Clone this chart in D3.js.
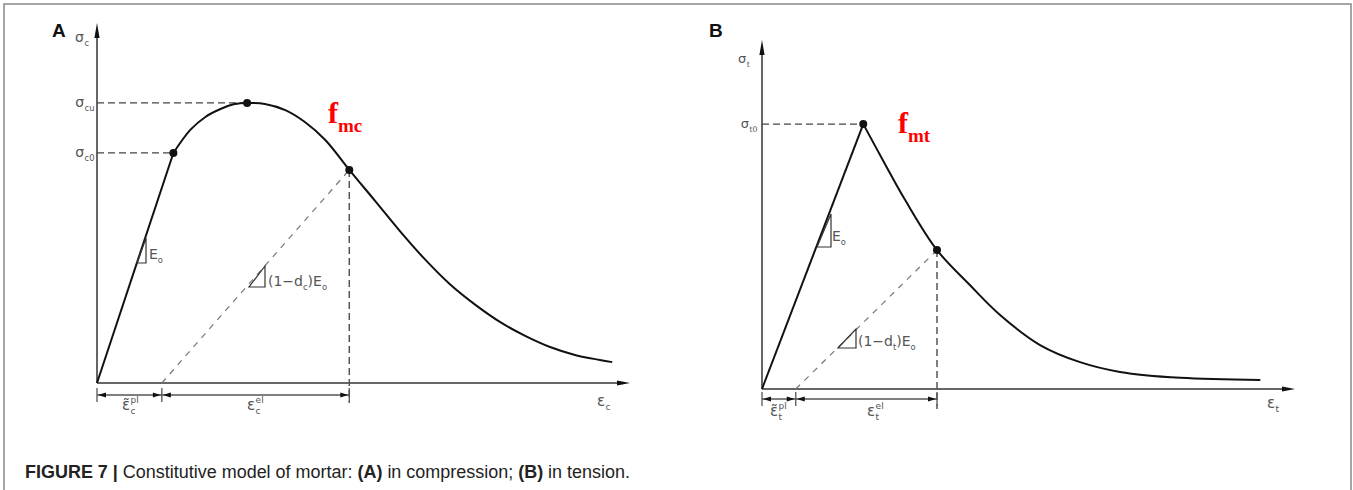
<!DOCTYPE html>
<html>
<head>
<meta charset="utf-8">
<script src="https://cdn.jsdelivr.net/npm/d3@7"></script>
<style>
  body { margin: 0; background: #fff; }
  svg { display: block; }
</style>
</head>
<body>
<div id="fig"></div>
<script>
// compression (panel A): strain (x1e-3) and stress
var compStrain = [0, 0.86, 1.05, 1.22, 1.39, 1.55, 1.69, 1.89, 2.12, 2.34, 2.57, 2.84, 3.13, 3.41, 3.69, 3.97, 4.26, 4.54, 4.82, 5.10, 5.38, 5.66, 5.80];
var compStress = [0, 6.39, 7.03, 7.39, 7.61, 7.75, 7.78, 7.75, 7.58, 7.25, 6.75, 5.92, 5.06, 4.22, 3.44, 2.75, 2.17, 1.69, 1.31, 1.00, 0.78, 0.64, 0.58];
var compMarked = [1, 6, 11];   // sigma_c0, sigma_cu, unloading point
var compDashed = [1, 6];       // horizontal guides to the y axis
var compUnload = 11;
var compPlastic = 0.73;

// tension (panel B)
var tenStrain = [0, 1.14, 1.39, 1.61, 1.97, 2.34, 2.68, 3.13, 3.58, 4.03, 4.71, 5.61];
var tenStress = [0, 7.59, 6.42, 5.42, 3.98, 2.98, 2.12, 1.26, 0.77, 0.49, 0.32, 0.26];
var tenMarked = [1, 4];
var tenDashed = [1];
var tenUnload = 4;
var tenPlastic = 0.38;

var width = 1353, height = 490;
var ink = "#111", grey = "#555";

var svg = d3.select("#fig")
    .append("svg")
    .attr("width", width)
    .attr("height", height);

// figure frame
svg.append("rect")
    .attr("x", 4).attr("y", 4)
    .attr("width", width - 6).attr("height", height + 10)
    .attr("fill", "none").attr("stroke", "#888").attr("stroke-width", 1.5);

// symbol with optional subscript / superscript stacked after it
function sym(g, x, y, base, sub, sup, size, anchor) {
    var t = g.append("text")
        .attr("x", x).attr("y", y)
        .attr("font-family", "DejaVu Sans, sans-serif")
        .attr("font-size", size)
        .attr("fill", grey)
        .text(base);
    var w = t.node().getComputedTextLength();
    var subW = 0;
    var small = size * 0.6;
    var x0 = x;
    if (anchor === "end") {
        var tmp = g.append("text").attr("font-family", "DejaVu Sans, sans-serif").attr("font-size", small).text(sub || "");
        subW = Math.max(subW, tmp.node().getComputedTextLength());
        tmp.text(sup || "");
        subW = Math.max(subW, tmp.node().getComputedTextLength());
        tmp.remove();
        x0 = x - w - subW - 1;
        t.attr("x", x0);
    }
    if (sub) g.append("text")
        .attr("x", x0 + w + 0.5).attr("y", y + size * 0.28)
        .attr("font-family", "DejaVu Sans, sans-serif")
        .attr("font-size", small).attr("fill", grey)
        .text(sub);
    if (sup) g.append("text")
        .attr("x", x0 + w + 0.5).attr("y", y - size * 0.45)
        .attr("font-family", "DejaVu Sans, sans-serif")
        .attr("font-size", small).attr("fill", grey)
        .text(sup);
}

// inline text with subscripts, e.g. (1-d_c)E_o
function rich(g, x, y, parts, size) {
    var t = g.append("text").attr("x", x).attr("y", y)
        .attr("font-family", "DejaVu Sans, sans-serif")
        .attr("font-size", size).attr("fill", grey);
    var shift = 0;
    parts.forEach(function(p) {
        var s = p[1] === "sub" ? size * 0.28 : 0;
        t.append("tspan")
            .attr("dy", s - shift)
            .attr("font-size", p[1] === "sub" ? size * 0.6 : size)
            .text(p[0]);
        shift = s;
    });
}

function arrowHead(g, tipX, tipY, dir, len, half) {
    var p;
    if (dir === "up") p = [[tipX, tipY], [tipX - half, tipY + len], [tipX + half, tipY + len]];
    else if (dir === "right") p = [[tipX, tipY], [tipX - len, tipY - half], [tipX - len, tipY + half]];
    else p = [[tipX, tipY], [tipX + len, tipY - half], [tipX + len, tipY + half]];
    g.append("path").attr("d", d3.line()(p) + "Z").attr("fill", ink);
}

function panel(o) {
    var g = svg.append("g");
    var x = d3.scaleLinear().domain([0, 6]).range([o.left, o.right]);
    var y = d3.scaleLinear().domain([0, 10]).range([o.bottom, o.top]);
    var pts = o.strain.map(function(s, i) { return [s, o.stress[i]]; });
    var line = d3.line().x(d => x(d[0])).y(d => y(d[1]));

    // axes
    g.append("line")
        .attr("x1", x(0)).attr("y1", y(0)).attr("x2", x(0)).attr("y2", o.top + 10)
        .attr("stroke", "#666").attr("stroke-width", 2);
    arrowHead(g, x(0), o.top, "up", 15, 2.6);
    g.append("line")
        .attr("x1", x(0)).attr("y1", y(0)).attr("x2", o.right - 8).attr("y2", y(0))
        .attr("stroke", "#666").attr("stroke-width", 2);
    arrowHead(g, o.right, y(0), "right", 13, 2.6);

    // guides to the stress axis
    o.dashed.forEach(function(i) {
        g.append("line")
            .attr("x1", x(0)).attr("y1", y(pts[i][1]))
            .attr("x2", x(pts[i][0])).attr("y2", y(pts[i][1]))
            .attr("stroke", "#444").attr("stroke-width", 1.3)
            .attr("stroke-dasharray", "7,4");
    });

    // unloading line and its drop to the strain axis
    var u = pts[o.unload];
    g.append("line")
        .attr("x1", x(o.plastic)).attr("y1", y(0))
        .attr("x2", x(u[0])).attr("y2", y(u[1]))
        .attr("stroke", "#777").attr("stroke-width", 1.2)
        .attr("stroke-dasharray", "6,6");
    g.append("line")
        .attr("x1", x(u[0])).attr("y1", y(u[1]))
        .attr("x2", x(u[0])).attr("y2", y(0) + 20)
        .attr("stroke", "#555").attr("stroke-width", 1.5)
        .attr("stroke-dasharray", "7,4");

    // elastic branch + nonlinear branch
    g.append("path").attr("d", line(pts.slice(0, 2)))
        .attr("fill", "none").attr("stroke", ink).attr("stroke-width", 2);
    g.append("path").attr("d", line.curve(d3.curveCatmullRom.alpha(0.5))(pts.slice(1)))
        .attr("fill", "none").attr("stroke", ink).attr("stroke-width", 2);

    o.marked.forEach(function(i) {
        g.append("circle").attr("cx", x(pts[i][0])).attr("cy", y(pts[i][1])).attr("r", 4).attr("fill", ink);
    });

    // dimension line under the strain axis
    var dy = y(0) + o.dimOff;
    var stops = [0, o.plastic, u[0]];
    stops.forEach(function(s) {
        g.append("line")
            .attr("x1", x(s)).attr("x2", x(s))
            .attr("y1", dy - 7).attr("y2", dy + 7)
            .attr("stroke", "#555").attr("stroke-width", 1.3);
    });
    g.append("line")
        .attr("x1", x(0)).attr("x2", x(u[0])).attr("y1", dy).attr("y2", dy)
        .attr("stroke", "#555").attr("stroke-width", 1.3);
    [[0, o.plastic], [o.plastic, u[0]]].forEach(function(seg) {
        arrowHead(g, x(seg[0]) + 1, dy, "left", 8, 2.4);
        arrowHead(g, x(seg[1]) - 1, dy, "right", 8, 2.4);
    });

    // stiffness triangles
    o.tri.forEach(function(t) {
        g.append("path")
            .attr("d", d3.line()([[t.x1, t.yb], [t.x2, t.yb], [t.x2, t.yt]]) + "Z")
            .attr("fill", "none").attr("stroke", "#333").attr("stroke-width", 1.2);
    });

    return {g: g, x: x, y: y, pts: pts};
}

// ---------- panel A ----------
var A = panel({
    left: 97, right: 630, bottom: 383, top: 23,
    strain: compStrain, stress: compStress,
    marked: compMarked, dashed: compDashed, unload: compUnload, plastic: compPlastic,
    dimOff: 12,
    tri: [{x1: 137, x2: 146, yb: 263, yt: 238}, {x1: 249, x2: 265, yb: 287, yt: 266}]
});
A.g.append("text").attr("x", 52).attr("y", 37)
    .attr("font-family", "Liberation Sans, Arial, sans-serif").attr("font-weight", "bold")
    .attr("font-size", 19).attr("fill", ink).text("A");
sym(A.g, 75, 42, "σ", "c", null, 14);
sym(A.g, 95, A.y(compStress[6]) + 4, "σ", "cu", null, 14, "end");
sym(A.g, 95, A.y(compStress[1]) + 4, "σ", "c0", null, 14, "end");
rich(A.g, 149, 259, [["E"], ["o", "sub"]], 14);
rich(A.g, 268, 286, [["(1−d"], ["c", "sub"], [")E"], ["o", "sub"]], 14);
sym(A.g, 122, 410, "ε\u0303", "c", "pl", 15);
sym(A.g, 247, 410, "ε", "c", "el", 15);
sym(A.g, 597, 406, "ε", "c", null, 15);

// ---------- panel B ----------
var B = panel({
    left: 762, right: 1295, bottom: 389, top: 40,
    strain: tenStrain, stress: tenStress,
    marked: tenMarked, dashed: tenDashed, unload: tenUnload, plastic: tenPlastic,
    dimOff: 10,
    tri: [{x1: 817, x2: 831, yb: 247, yt: 214}, {x1: 838, x2: 856, yb: 348, yt: 329}]
});
B.g.append("text").attr("x", 709).attr("y", 37)
    .attr("font-family", "Liberation Sans, Arial, sans-serif").attr("font-weight", "bold")
    .attr("font-size", 19).attr("fill", ink).text("B");
sym(B.g, 738, 63, "σ", "t", null, 13);
sym(B.g, 758, B.y(tenStress[1]) + 4, "σ", "t0", null, 13, "end");
rich(B.g, 832, 241, [["E"], ["o", "sub"]], 14);
rich(B.g, 858, 346, [["(1−d"], ["t", "sub"], [")E"], ["o", "sub"]], 14);
sym(B.g, 770, 416, "ε\u0303", "t", "pl", 15);
sym(B.g, 867, 416, "ε", "t", "el", 15);
sym(B.g, 1267, 408, "ε", "t", null, 15);

// red material labels
function redLabel(x, yb, sub) {
    var t = svg.append("text").attr("x", x).attr("y", yb)
        .attr("font-family", "Liberation Serif, Times New Roman, serif")
        .attr("font-weight", "bold").attr("fill", "#f00");
    t.append("tspan").attr("font-size", 30).text("f");
    t.append("tspan").attr("font-size", 19).attr("dy", 9).text(sub);
}
redLabel(328, 123, "mc");
redLabel(898, 133, "mt");

// caption
var cap = svg.append("text").attr("x", 25).attr("y", 478)
    .attr("font-family", "Liberation Sans, Arial, sans-serif")
    .attr("font-size", 17.5).attr("fill", "#222")
    .attr("textLength", 605).attr("lengthAdjust", "spacingAndGlyphs");
cap.append("tspan").attr("font-weight", "bold").text("FIGURE 7 | ");
cap.append("tspan").text("Constitutive model of mortar: ");
cap.append("tspan").attr("font-weight", "bold").text("(A)");
cap.append("tspan").text(" in compression; ");
cap.append("tspan").attr("font-weight", "bold").text("(B)");
cap.append("tspan").text(" in tension.");
</script>
</body>
</html>
